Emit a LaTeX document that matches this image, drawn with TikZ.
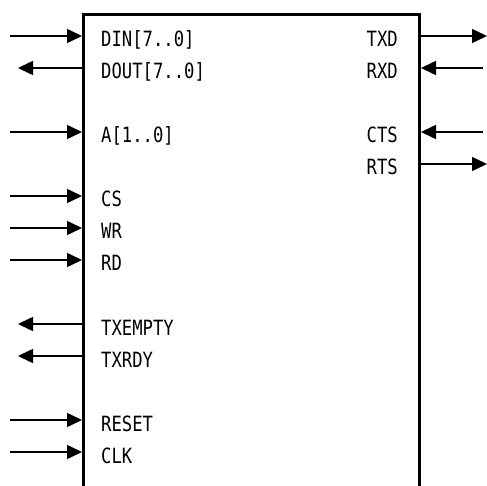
\documentclass[tikz,border=0pt]{standalone}
\usepackage{fontspec}
\newfontfamily\pinfont[FakeStretch=0.82]{DejaVu Sans Mono}
\usepackage{tikz}
\usetikzlibrary{arrows.meta,positioning,calc}

\begin{document}
\begin{tikzpicture}[x=1pt, y=-1pt, >={Triangle[length=15pt,width=14pt]},
    pin/.style={line width=1.6pt},
    lbl/.style={font=\pinfont\fontsize{21}{21}\selectfont, inner sep=0pt},
    body/.style={draw, line width=3pt, minimum width=336pt, minimum height=500pt,
                 anchor=north west, inner sep=0pt}]
  \useasboundingbox (0,0) rectangle (487,486);

  % chip body (runs off the bottom)
  \node[body] (uart) at (82,13) {};

  % left side labels
  \node[lbl, anchor=base west] (din)  at (101,47)  {DIN[7..0]};
  \node[lbl, anchor=base west] (dout) at (101,79)  {DOUT[7..0]};
  \node[lbl, anchor=base west] (a)    at (101,143) {A[1..0]};
  \node[lbl, anchor=base west] (cs)   at (101,207) {CS};
  \node[lbl, anchor=base west] (wr)   at (101,239) {WR};
  \node[lbl, anchor=base west] (rd)   at (101,271) {RD};
  \node[lbl, anchor=base west] (txe)  at (101,335) {TXEMPTY};
  \node[lbl, anchor=base west] (txr)  at (101,367) {TXRDY};
  \node[lbl, anchor=base west] (rst)  at (101,431) {RESET};
  \node[lbl, anchor=base west] (clk)  at (101,463) {CLK};

  % right side labels
  \node[lbl, anchor=base east] (txd) at (398,47)  {TXD};
  \node[lbl, anchor=base east] (rxd) at (398,79)  {RXD};
  \node[lbl, anchor=base east] (cts) at (398,143) {CTS};
  \node[lbl, anchor=base east] (rts) at (398,175) {RTS};

  % outer pin ends
  \coordinate (din-p)  at (10,36);
  \coordinate (dout-p) at (18,68);
  \coordinate (a-p)    at (10,132);
  \coordinate (cs-p)   at (10,196);
  \coordinate (wr-p)   at (10,228);
  \coordinate (rd-p)   at (10,260);
  \coordinate (txe-p)  at (18,324);
  \coordinate (txr-p)  at (18,356);
  \coordinate (rst-p)  at (10,420);
  \coordinate (clk-p)  at (10,452);
  \coordinate (txd-p)  at (487,36);
  \coordinate (rxd-p)  at (483,68);
  \coordinate (cts-p)  at (483,132);
  \coordinate (rts-p)  at (487,164);

  % inputs, left
  \draw[pin, ->] (din-p) -- (din-p -| uart.west);
  \draw[pin, ->] (a-p)   -- (a-p -| uart.west);
  \draw[pin, ->] (cs-p)  -- (cs-p -| uart.west);
  \draw[pin, ->] (wr-p)  -- (wr-p -| uart.west);
  \draw[pin, ->] (rd-p)  -- (rd-p -| uart.west);
  \draw[pin, ->] (rst-p) -- (rst-p -| uart.west);
  \draw[pin, ->] (clk-p) -- (clk-p -| uart.west);

  % outputs, left
  \draw[pin, ->] (dout-p -| uart.west) -- (dout-p);
  \draw[pin, ->] (txe-p -| uart.west)  -- (txe-p);
  \draw[pin, ->] (txr-p -| uart.west)  -- (txr-p);

  % serial side
  \draw[pin, ->] (txd-p -| uart.east) -- (txd-p);
  \draw[pin, ->] (rxd-p) -- (rxd-p -| uart.east);
  \draw[pin, ->] (cts-p) -- (cts-p -| uart.east);
  \draw[pin, ->] (rts-p -| uart.east) -- (rts-p);
\end{tikzpicture}
\end{document}
